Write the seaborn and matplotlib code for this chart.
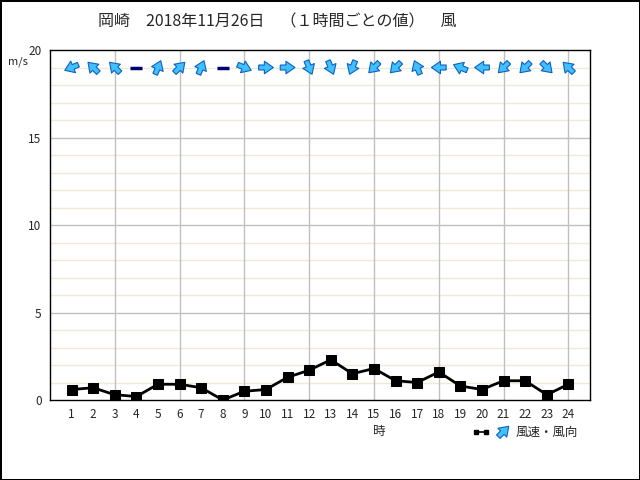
import numpy as np
import pandas as pd
import seaborn as sns
import matplotlib.pyplot as plt
from matplotlib.lines import Line2D

# hourly wind data
hours = list(range(1, 25))
speed = [0.6, 0.7, 0.3, 0.2, 0.9, 0.9, 0.7, 0.0, 0.5, 0.6, 1.3, 1.7,
         2.3, 1.5, 1.8, 1.1, 1.0, 1.6, 0.8, 0.6, 1.1, 1.1, 0.3, 0.9]
# direction the wind blows from ("静穏" = calm)
direction = ["ENE", "SE", "SE", "静穏", "SSW", "SW", "SSW", "静穏", "WNW", "W", "W", "NNW",
             "NNW", "NNE", "NE", "NE", "SSE", "E", "ESE", "E", "NE", "NE", "NW", "SE"]
compass = ["N", "NNE", "NE", "ENE", "E", "ESE", "SE", "SSE",
           "S", "SSW", "SW", "WSW", "W", "WNW", "NW", "NNW"]
arrow_row = 19
xtick_labels = [str(h) for h in hours]
yticks = [0, 5, 10, 15, 20]

sns.set_style("white")
plt.rcParams['font.family'] = ['Noto Sans CJK JP', 'DejaVu Sans']

df = pd.DataFrame({"hour": hours, "speed": speed, "dir": direction})
calm = df[df["dir"] == "静穏"]
windy = df[df["dir"] != "静穏"].copy()
to_deg = np.array([compass.index(d) * 22.5 + 180 for d in windy["dir"]])
windy["u"] = np.sin(np.radians(to_deg))
windy["v"] = np.cos(np.radians(to_deg))

fig = plt.figure(figsize=(6.4, 4.8), dpi=100)
fig.patch.set_edgecolor("black")
fig.patch.set_linewidth(2)
ax = fig.add_axes([50 / 640, 80 / 480, 540 / 640, 350 / 480])

# grid
for y in range(1, 20):
    ax.axhline(y, color="#C0C0C0" if y % 5 == 0 else "#EFE9D6", lw=1, zorder=0)
for x in range(3, 25, 3):
    ax.axvline(x, color="#C0C0C0", lw=1, zorder=0)

sns.lineplot(data=df, x="hour", y="speed", color="black", lw=2, marker="s",
             markersize=6.5, markeredgecolor="black", ax=ax, zorder=3)

arrow_kw = dict(angles="uv", pivot="middle", units="inches", scale_units="inches",
                scale=6.8, width=0.05, headwidth=2.5, headlength=1.8, headaxislength=1.8,
                color="#40C0FF", edgecolor="#1060C0", linewidth=0.8)
ax.quiver(windy["hour"], [arrow_row] * len(windy), windy["u"], windy["v"], zorder=4, **arrow_kw)
ax.plot(calm["hour"], [arrow_row] * len(calm), ls="none", marker="_",
        markersize=9, markeredgewidth=2.5, color="#000070", zorder=4)

ax.set_xlim(0, 25)
ax.set_ylim(0, 20)
ax.set_xticks(hours)
ax.set_xticklabels(xtick_labels)
ax.set_yticks(yticks)
ax.set_yticklabels([str(t) for t in yticks])
ax.tick_params(length=0, labelsize=8.5, pad=6)
ax.set_xlabel("")
ax.set_ylabel("")
for s in ax.spines.values():
    s.set_color("black")
    s.set_linewidth(1)

fig.text(277 / 640, 1 - 22 / 480, "岡崎　2018年11月26日　（１時間ごとの値）　風",
         ha="center", va="center", fontsize=11.5)
fig.text(18 / 640, 1 - 62 / 480, "m/s", ha="center", va="center", fontsize=8)
fig.text(379 / 640, 1 - 432 / 480, "時", ha="center", va="center", fontsize=9)

# legend
fig.add_artist(Line2D([476 / 640, 486 / 640], [1 - 432 / 480] * 2, color="black", lw=1.2,
                      marker="s", markersize=2.5, markevery=[0, 1]))
lax = fig.add_axes([494 / 640, 1 - 440 / 480, 18 / 640, 18 / 480])
lax.set_xlim(0, 1)
lax.set_ylim(0, 1)
lax.axis("off")
lax.quiver([0.5], [0.5], [np.sin(np.radians(45))], [np.cos(np.radians(45))], **arrow_kw)
fig.text(516 / 640, 1 - 432 / 480, "風速・風向", ha="left", va="center", fontsize=9)

fig.savefig("out.png", dpi=100)
